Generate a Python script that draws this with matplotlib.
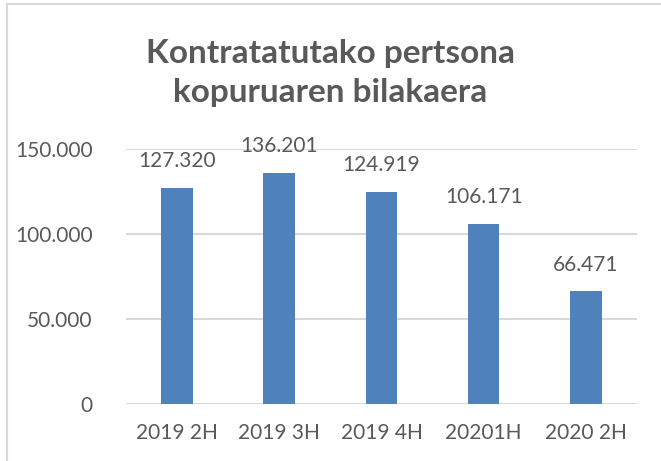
import matplotlib
matplotlib.use("Agg")
import matplotlib.pyplot as plt
from matplotlib.patches import Rectangle

periods = ["2019 2H", "2019 3H", "2019 4H", "20201H", "2020 2H"]
hired = [127320, 136201, 124919, 106171, 66471]
y_ticks = [0, 50000, 100000, 150000]
y_tick_labels = ["0", "50.000", "100.000", "150.000"]
value_labels = ["127.320", "136.201", "124.919", "106.171", "66.471"]

plt.rcParams['font.family'] = ['Lato', 'DejaVu Sans']
text_grey = "#595959"

fig = plt.figure(figsize=(6.61, 4.61), dpi=100)
ax = fig.add_axes([0.1906, 0.1236, 0.773, 0.553])

x = range(len(periods))
ax.bar(x, hired, width=0.31, color="#4F81BD", zorder=3)

for i, (v, lab) in enumerate(zip(hired, value_labels)):
    ax.annotate(lab, (i, v), xytext=(0, 19), textcoords="offset points",
                ha="center", va="center", fontsize=15, color=text_grey,
                annotation_clip=False)

ax.set_xlim(-0.5, len(periods) - 0.5)
ax.set_ylim(0, 150000)
ax.set_yticks(y_ticks)
ax.set_yticklabels(y_tick_labels)
ax.set_xticks(list(x))
ax.set_xticklabels(periods)
ax.tick_params(axis="both", length=0, labelsize=15, labelcolor=text_grey)
ax.tick_params(axis="x", pad=14)
ax.tick_params(axis="y", pad=24)
ax.yaxis.grid(True, color="#D9D9D9", linewidth=1.5, zorder=0)
for s in ax.spines.values():
    s.set_visible(False)

fig.text(0.5, 0.842, "Kontratatutako pertsona\nkopuruaren bilakaera",
         ha="center", va="center", fontsize=24, fontweight="bold",
         color=text_grey, linespacing=1.4)

# chart border (partly cropped in the source picture)
fig.patches.append(Rectangle((7 / 661, -0.1), 1.2, 1.1 - 4 / 461,
                             transform=fig.transFigure, fill=False,
                             edgecolor="#D9D9D9", linewidth=1.5))

fig.savefig("out.png", dpi=100)
